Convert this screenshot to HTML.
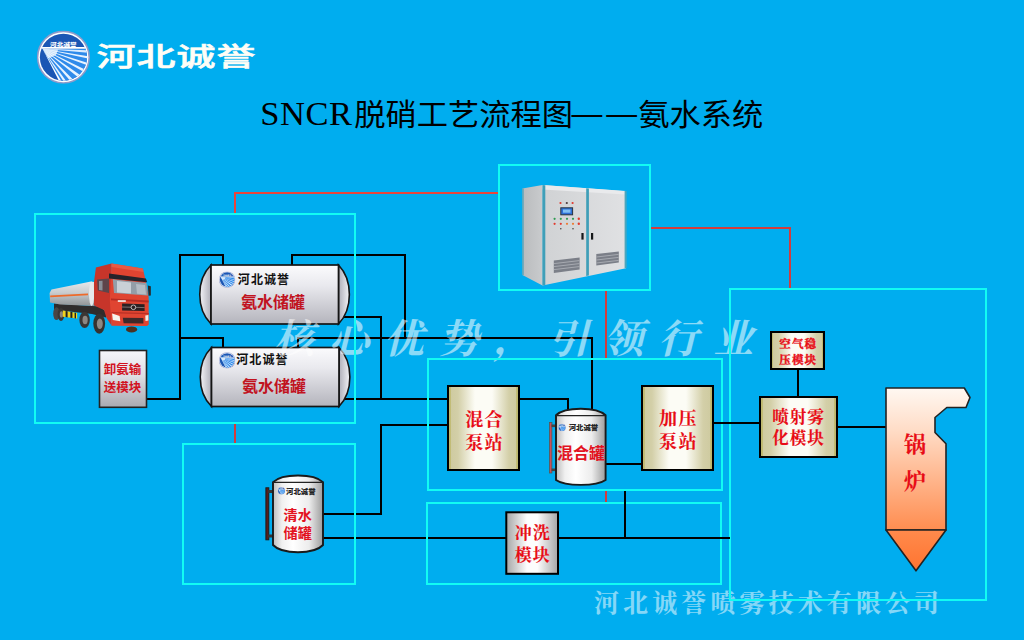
<!DOCTYPE html>
<html lang="zh-CN">
<head>
<meta charset="utf-8">
<title>SNCR脱硝工艺流程图——氨水系统</title>
<style>
html,body{margin:0;padding:0;background:#00adef;}
body{width:1024px;height:640px;overflow:hidden;position:relative;}
svg{position:absolute;left:0;top:0;display:block;}
.sans{font-family:"Liberation Sans","Noto Sans CJK SC",sans-serif;}
.serif{font-family:"Liberation Serif","Noto Serif CJK SC",serif;}
.cy{fill:none;stroke:#12fbf3;stroke-width:2;shape-rendering:crispEdges;}
.rd{fill:none;stroke:#d23c3d;stroke-width:2;shape-rendering:crispEdges;}
.bk{fill:none;stroke:#000;stroke-width:2;shape-rendering:crispEdges;stroke-linejoin:miter;}
.lblS{font-family:"Liberation Serif","Noto Serif CJK SC",serif;font-weight:700;fill:#e80c16;stroke:#e80c16;stroke-width:0.12px;text-anchor:middle;}
.lblH{font-family:"Liberation Sans","Noto Sans CJK SC",sans-serif;font-weight:700;fill:#c1131f;text-anchor:middle;}
.lblR{font-family:"Liberation Sans","Noto Sans CJK SC",sans-serif;font-weight:700;fill:#e3121f;text-anchor:middle;}
.brand{font-family:"Liberation Sans","Noto Sans CJK SC",sans-serif;font-weight:700;fill:#111;letter-spacing:1.1px;}
.wm{font-family:"Liberation Serif","Noto Serif CJK SC",serif;font-style:italic;font-weight:600;fill:#fff;}
</style>
</head>
<body>
<svg width="1024" height="640" viewBox="0 0 1024 640">
<defs>
  <linearGradient id="gKhaki" x1="0" y1="0" x2="1" y2="0">
    <stop offset="0" stop-color="#bcb668"/><stop offset="0.035" stop-color="#c2bc76"/><stop offset="0.045" stop-color="#cfcba1"/>
    <stop offset="0.14" stop-color="#d3cfa8"/><stop offset="0.38" stop-color="#fcfcf5"/><stop offset="0.62" stop-color="#fcfcf5"/>
    <stop offset="0.86" stop-color="#d3cfa8"/><stop offset="0.955" stop-color="#cfcba1"/><stop offset="0.965" stop-color="#c2bc76"/><stop offset="1" stop-color="#b6b05e"/>
  </linearGradient>
  <linearGradient id="gGrayH" x1="0" y1="0" x2="1" y2="0">
    <stop offset="0" stop-color="#a6a6a6"/><stop offset="0.4" stop-color="#fdfdfd"/><stop offset="0.6" stop-color="#fdfdfd"/><stop offset="1" stop-color="#a6a6a6"/>
  </linearGradient>
  <linearGradient id="gGrayV" x1="0" y1="0" x2="0" y2="1">
    <stop offset="0" stop-color="#f6f6fa"/><stop offset="0.45" stop-color="#dedee4"/><stop offset="1" stop-color="#a9a9b0"/>
  </linearGradient>
  <linearGradient id="gCyl" x1="0" y1="0" x2="1" y2="0">
    <stop offset="0" stop-color="#bdbdbd"/><stop offset="0.18" stop-color="#f0f0f0"/><stop offset="0.4" stop-color="#ffffff"/><stop offset="0.72" stop-color="#ececec"/><stop offset="1" stop-color="#9c9c9c"/>
  </linearGradient>
  <linearGradient id="gBoiler" x1="0" y1="0" x2="0" y2="1">
    <stop offset="0" stop-color="#fff8f2"/><stop offset="0.3" stop-color="#ffdcc6"/><stop offset="1" stop-color="#ff8d50"/>
  </linearGradient>
  <linearGradient id="gBoilerT" x1="0" y1="0" x2="0" y2="1">
    <stop offset="0" stop-color="#ff8a4c"/><stop offset="1" stop-color="#ff7430"/>
  </linearGradient>

  <linearGradient id="gTankV" x1="0" y1="0" x2="0" y2="1">
    <stop offset="0" stop-color="#fbfbfd"/><stop offset="0.35" stop-color="#e9e9ee"/><stop offset="1" stop-color="#b4b4bc"/>
  </linearGradient>
  <linearGradient id="gCapL" x1="0" y1="0" x2="1" y2="0">
    <stop offset="0" stop-color="#f4f4f8"/><stop offset="1" stop-color="#aeaeb8"/>
  </linearGradient>
  <linearGradient id="gCapR" x1="0" y1="0" x2="1" y2="0">
    <stop offset="0" stop-color="#aeaeb8"/><stop offset="1" stop-color="#f4f4f8"/>
  </linearGradient>
  <clipPath id="logoClip"><circle cx="50" cy="50" r="44.5"/></clipPath>
  <symbol id="logo" viewBox="0 0 100 100">
    <circle cx="50" cy="50" r="50" fill="#8f9aca"/>
    <circle cx="50" cy="50" r="47" fill="#ffffff"/>
    <circle cx="50" cy="50" r="44.2" fill="#1b56b4"/>
    <g clip-path="url(#logoClip)">
      <polygon points="10.8,34 100,34 100,100 46,100" fill="#2f8aea"/>
      <polygon points="10.8,34 100,37 100,42" fill="#dcecff"/>
      <polygon points="10.8,34 100,49 100,53.5" fill="#e8f3ff"/>
      <polygon points="10.8,34 100,62 100,67" fill="#e8f3ff"/>
      <polygon points="10.8,34 100,78 98,83" fill="#e8f3ff"/>
      <polygon points="10.8,34 88,88 84,93" fill="#e8f3ff"/>
      <polygon points="10.8,34 73,97 68.5,101" fill="#e8f3ff"/>
      <polygon points="10.8,34 59,100 54.5,102" fill="#e8f3ff"/>
      <polygon points="10.8,34 49,100 44.5,100" fill="#ffffff"/>
      <polygon points="10.8,34 40,36 36,46 22,52" fill="#ffffff" opacity="0.75"/>
      <polygon points="5,31 95,31 95,34.2 5,34.2" fill="#ffffff"/>
    </g>
    <text transform="translate(50,29) scale(1,0.7)" text-anchor="middle" font-family="'Liberation Sans','Noto Sans CJK SC',sans-serif" font-weight="900" font-size="12.6" fill="#fff">河北诚誉</text>
  </symbol>

  <linearGradient id="gCabSide" x1="0" y1="0" x2="1" y2="0">
    <stop offset="0" stop-color="#b9bbbd"/><stop offset="1" stop-color="#c9cbcd"/>
  </linearGradient>
  <linearGradient id="gCabFront" x1="0" y1="0" x2="1" y2="0">
    <stop offset="0" stop-color="#d0d2d4"/><stop offset="1" stop-color="#e0e1e3"/>
  </linearGradient>
  <linearGradient id="gTrkTank" x1="0" y1="0" x2="0" y2="1">
    <stop offset="0" stop-color="#e6e8ea"/><stop offset="0.45" stop-color="#c9cccf"/><stop offset="1" stop-color="#8f9396"/>
  </linearGradient>
</defs>

<!-- ===== red signal lines ===== -->
<g id="signals">
  <polyline class="rd" points="235,213 235,193 499,193" style="stroke:#ea453b"/>
  <line class="rd" x1="235" y1="424" x2="235" y2="443"/>
  <polyline class="rd" points="651,228 790,228 790,288"/>
  <line class="rd" x1="606" y1="291" x2="606" y2="358"/>
  <line class="rd" x1="606" y1="491" x2="606" y2="502"/>
</g>

<!-- ===== black process pipes ===== -->
<g id="pipes">
  <polyline class="bk" points="147,399 180,399 180,255 223,255 223,265"/>
  <polyline class="bk" points="180,338 223,338 223,348"/>
  <polyline class="bk" points="292,265 292,255 405,255 405,338"/>
  <polyline class="bk" points="298,348 298,338 592,338 592,410"/>
  <polyline class="bk" points="340,317 381,317 381,399"/>
  <line class="bk" x1="340" y1="399" x2="448" y2="399"/>
  <polyline class="bk" points="448,425 381,425 381,514 322,514"/>
  <polyline class="bk" points="520,399 568,399 568,412"/>
  <line class="bk" x1="605" y1="464" x2="642" y2="464"/>
  <line class="bk" x1="714" y1="422.5" x2="760" y2="422.5"/>
  <line class="bk" x1="798" y1="369" x2="798" y2="397"/>
  <line class="bk" x1="837" y1="427" x2="887" y2="427"/>
  <line class="bk" x1="322" y1="538" x2="506" y2="538"/>
  <line class="bk" x1="558" y1="538" x2="730" y2="538"/>
  <line class="bk" x1="625" y1="491" x2="625" y2="538"/>
</g>

<!-- ===== module boxes ===== -->
<g id="modules">
  <rect x="448" y="386" width="71" height="84" fill="url(#gKhaki)" stroke="#000" stroke-width="2" shape-rendering="crispEdges"/>
  <text class="lblS" x="484.6" y="426" font-size="18" letter-spacing="1.4">混合</text>
  <text class="lblS" x="484.6" y="449" font-size="18" letter-spacing="1.4">泵站</text>

  <rect x="642" y="386" width="71" height="84" fill="url(#gKhaki)" stroke="#000" stroke-width="2" shape-rendering="crispEdges"/>
  <text class="lblS" x="678.4" y="424.6" font-size="18" letter-spacing="1.4">加压</text>
  <text class="lblS" x="678.4" y="447.6" font-size="18" letter-spacing="1.4">泵站</text>

  <rect x="771" y="332" width="53" height="37" fill="url(#gKhaki)" stroke="#000" stroke-width="2" shape-rendering="crispEdges"/>
  <text class="lblS" x="798.2" y="347.6" font-size="11.5" letter-spacing="1.1" style="stroke-width:0.4px">空气稳</text>
  <text class="lblS" x="798.2" y="363.6" font-size="11.5" letter-spacing="1.1" style="stroke-width:0.4px">压模块</text>

  <rect x="760" y="397" width="77" height="60" fill="url(#gKhaki)" stroke="#000" stroke-width="2" shape-rendering="crispEdges"/>
  <text class="lblS" x="798.6" y="423" font-size="16.6" letter-spacing="0.9">喷射雾</text>
  <text class="lblS" x="798.6" y="443.6" font-size="16.6" letter-spacing="0.9">化模块</text>

  <rect x="506.3" y="512.3" width="51.7" height="61.5" fill="url(#gGrayH)" stroke="#000" stroke-width="2"/>
  <text class="lblS" x="532.8" y="538.6" font-size="17" letter-spacing="1">冲洗</text>
  <text class="lblS" x="532.8" y="561.4" font-size="17" letter-spacing="1">模块</text>

  <rect x="99.5" y="350.5" width="47" height="56.8" fill="url(#gGrayV)" stroke="#222" stroke-width="1.6"/>
  <text class="lblR" x="122.6" y="373.8" font-size="12.5" style="fill:#d2121f">卸氨输</text>
  <text class="lblR" x="122.6" y="391.5" font-size="12.5" style="fill:#d2121f">送模块</text>
</g>


<!-- ===== ammonia storage tanks (horizontal) ===== -->
<g id="tank1">
  <path d="M211,265 C196,280 196,309 211,324 Z" fill="url(#gCapL)" stroke="#151515" stroke-width="1.6"/>
  <path d="M338.5,265 C353,280 353,309 338.5,324 Z" fill="url(#gCapR)" stroke="#151515" stroke-width="1.6"/>
  <rect x="211" y="265" width="127.5" height="59" fill="url(#gTankV)" stroke="#151515" stroke-width="1.7"/>
  <use href="#logo" x="218.9" y="271.4" width="16.4" height="16.4"/>
  <text class="brand" x="237.8" y="283.6" font-size="12">河北诚誉</text>
  <text class="lblH" x="273" y="307.6" font-size="16">氨水储罐</text>
</g>
<g id="tank2">
  <path d="M211.5,347.5 C196.5,362.5 196.5,391.5 211.5,406.5 Z" fill="url(#gCapL)" stroke="#151515" stroke-width="1.6"/>
  <path d="M339,347.5 C353.5,362.5 353.5,391.5 339,406.5 Z" fill="url(#gCapR)" stroke="#151515" stroke-width="1.6"/>
  <rect x="211.5" y="347.5" width="127.5" height="59" fill="url(#gTankV)" stroke="#151515" stroke-width="1.7"/>
  <use href="#logo" x="218.9" y="352.2" width="16.4" height="16.4"/>
  <text class="brand" x="236.2" y="364" font-size="12">河北诚誉</text>
  <text class="lblH" x="274" y="391.8" font-size="16">氨水储罐</text>
</g>

<!-- ===== clean water tank (vertical) ===== -->
<g id="tankWater">
  <rect x="265.9" y="487.8" width="2.9" height="52" fill="#5a1c1a" stroke="#1c1c1c" stroke-width="1"/>
  <rect x="268" y="490" width="5" height="3" fill="#333"/>
  <rect x="268" y="534.5" width="5" height="3" fill="#333"/>
  <path d="M273,482.2 C282,473.2 314,473.2 323,482.2 L323,545 C314,554.6 282,554.6 273,545 Z" fill="url(#gCyl)" stroke="#1a1a1a" stroke-width="1.9"/>
  <line x1="273" y1="482.4" x2="323" y2="482.4" stroke="#222" stroke-width="1.4"/>
  <use href="#logo" x="277.6" y="487" width="7.6" height="7.6"/>
  <text x="286" y="493.8" font-size="7.4" class="sans" font-weight="900" fill="#222">河北诚誉</text>
  <text class="lblR" x="297.8" y="519.6" font-size="14.2">清水</text>
  <text class="lblR" x="297.8" y="537.5" font-size="14.2">储罐</text>
</g>

<!-- ===== mixing tank (vertical) ===== -->
<g id="tankMix">
  <rect x="549.5" y="422.5" width="2.4" height="50.5" fill="#c9505a" stroke="#555" stroke-width="0.8"/>
  <rect x="551.5" y="424.5" width="4.5" height="2.6" fill="#444"/>
  <rect x="551.5" y="468.5" width="4.5" height="2.6" fill="#444"/>
  <path d="M556,415.3 C565,406.5 596.5,406.5 605.6,415.3 L605.6,480 C596.5,486.5 565,486.5 556,480 Z" fill="url(#gCyl)" stroke="#1a1a1a" stroke-width="1.9"/>
  <line x1="556" y1="415.6" x2="605.6" y2="415.6" stroke="#222" stroke-width="1.4"/>
  <use href="#logo" x="558.2" y="423.7" width="7.6" height="7.6"/>
  <text x="568.7" y="430.3" font-size="7.4" class="sans" font-weight="900" fill="#222">河北诚誉</text>
  <text class="lblR" x="581" y="459" font-size="16">混合罐</text>
</g>

<!-- ===== boiler ===== -->
<g id="boiler">
  <path d="M886,388 L964.3,388 L970,397.5 L966,407.5 L946.8,407.5 L935,417.5 L935,432.5 L946,443.8 L946,530 L886,530 Z" fill="url(#gBoiler)" stroke="#222" stroke-width="1.6" stroke-linejoin="round"/>
  <path d="M886,530 L946,530 L916,570.8 Z" fill="url(#gBoilerT)" stroke="#222" stroke-width="1.6" stroke-linejoin="round"/>
  <text class="lblS" x="915" y="452" font-size="22">锅</text>
  <text class="lblS" x="915" y="489" font-size="22">炉</text>
</g>

<!-- ===== company logo + brand ===== -->
<g id="brandTop">
  <use href="#logo" x="36.8" y="30.6" width="53.2" height="53.2"/>
  <text transform="translate(96.4,66.3) scale(1.5,1)" font-family="'Liberation Sans','Noto Sans CJK SC',sans-serif" font-weight="500" font-size="26" fill="#fffdf6" stroke="#fffdf6" stroke-width="0.55" letter-spacing="0.7">河北诚誉</text>
</g>

<!-- ===== watermarks ===== -->
<g id="watermarks">
  <text class="wm" x="274" y="352.5" font-size="40" letter-spacing="14.9" opacity="0.55" style="font-weight:700">核心优势，引领行业</text>
  <text class="wm" x="594" y="611.5" font-size="25" letter-spacing="4.1" opacity="0.52" style="font-style:normal;font-weight:700">河北诚誉喷雾技术有限公司</text>
</g>

<!-- ===== cyan group frames ===== -->
<g id="frames">
  <rect class="cy" x="35" y="214" width="320" height="209"/>
  <rect class="cy" x="183" y="444" width="172" height="140"/>
  <rect class="cy" x="499" y="165" width="151" height="125"/>
  <rect class="cy" x="428" y="359" width="294" height="131"/>
  <rect class="cy" x="427" y="503" width="294" height="81"/>
  <rect class="cy" x="730" y="289" width="256" height="311"/>
</g>
<g id="pipesTop">
  <line class="bk" x1="714" y1="422.5" x2="760" y2="422.5"/>
  <line class="bk" x1="558" y1="538" x2="730" y2="538"/>
  <line class="bk" x1="625" y1="491" x2="625" y2="538"/>
</g>



<!-- ===== control cabinet ===== -->
<g id="cabinet">
  <polygon points="522.4,188.6 542.5,185 542.5,285.5 522.4,275" fill="url(#gCabSide)"/>
  <polygon points="542.5,185 626,191.2 626,268.2 542.5,285.5" fill="url(#gCabFront)"/>
  <polygon points="542.5,185 625.8,191 625.8,194.5 542.5,189.5" fill="#e9eaec"/>
  <polygon points="542.5,185 545.3,185.2 545.3,284.9 542.5,285.5" fill="#3f9fb8"/>
  <polygon points="586.2,188.2 588.9,188.4 588.9,275.5 586.2,276.1" fill="#3f9fb8"/>
  <polygon points="624.6,190.9 626.6,191.1 626.6,267.9 624.6,268.3" fill="#4aa6bd"/>
  <line x1="523" y1="188.6" x2="523" y2="275" stroke="#4fa3b9" stroke-width="1.3"/>
  <rect x="560.8" y="207.8" width="11.8" height="7" fill="#2c6fd6" stroke="#2a3340" stroke-width="1"/>
  <rect x="563" y="209.5" width="7.5" height="3.2" fill="#7fc0f4"/>
  <g>
    <circle cx="560.5" cy="203" r="1.1" fill="#e23a2e"/><circle cx="566.8" cy="203" r="1.1" fill="#4a3a3a"/><circle cx="572.6" cy="203" r="1.1" fill="#e23a2e"/>
    <circle cx="554.6" cy="218.8" r="1.1" fill="#2e9a52"/><circle cx="560.8" cy="218.8" r="1.1" fill="#2e9a52"/><circle cx="567" cy="218.8" r="1.1" fill="#2e9a52"/><circle cx="573" cy="218.8" r="1.1" fill="#2e9a52"/><circle cx="578.8" cy="218.8" r="1.2" fill="#e23a2e"/>
    <circle cx="554.6" cy="223.8" r="1.1" fill="#e23a2e"/><circle cx="560.8" cy="223.8" r="1.1" fill="#e23a2e"/><circle cx="567" cy="223.8" r="1.1" fill="#ee7a30"/><circle cx="573" cy="223.8" r="1.1" fill="#ee7a30"/><circle cx="578.8" cy="223.8" r="1.2" fill="#e23a2e"/>
    <circle cx="560.8" cy="228.8" r="0.8" fill="#444"/><circle cx="573" cy="228.8" r="0.8" fill="#444"/>
  </g>
  <rect x="581.4" y="233" width="2.2" height="6.6" fill="#16181a"/>
  <rect x="591" y="233" width="2.2" height="6.6" fill="#16181a"/>
  <polygon points="553.8,260.6 579.6,257.6 579.6,269.6 553.8,273" fill="#7b7f88"/>
  <path d="M554,263.6 L579.4,260.6 M554,266.6 L579.4,263.6 M554,269.6 L579.4,266.6" stroke="#b9bcc2" stroke-width="0.7" fill="none"/>
  <polygon points="596.3,254 618.8,251.4 618.8,262.4 596.3,265.6" fill="#7b7f88"/>
  <path d="M596.5,257 L618.6,254.4 M596.5,260 L618.6,257.4 M596.5,263 L618.6,260.4" stroke="#b9bcc2" stroke-width="0.7" fill="none"/>
</g>

<!-- ===== tanker truck ===== -->
<g id="truck">
  <!-- chassis -->
  <polygon points="54,303.5 100,306.5 106,312 106,317.5 92,314 70,311.5 54,309.5" fill="#2f2c2c"/>
  <!-- rear wheels -->
  <ellipse cx="56.5" cy="313.6" rx="3.3" ry="6.4" fill="#4a4644"/>
  <ellipse cx="61" cy="314.4" rx="3.4" ry="6.5" fill="#3a3735"/>
  <ellipse cx="61.4" cy="314.4" rx="1.6" ry="3.2" fill="#8a8580"/>
  <!-- hazard bar -->
  <polygon points="62.8,310.4 77.1,312.9 77.1,318.6 62.8,316.7" fill="#efd21e"/>
  <polygon points="65.6,310.9 67.6,311.2 67.6,317.4 65.6,317.1" fill="#222"/>
  <polygon points="70.4,311.7 72.4,312 72.4,318 70.4,317.7" fill="#222"/>
  <polygon points="74.6,312.5 76,312.7 76,318.4 74.6,318.2" fill="#222"/>
  <!-- tank -->
  <polygon points="49.6,293 51.5,289.6 91,281.6 94,282 94,306 60,304.4 50,302.6" fill="url(#gTrkTank)"/>
  <polygon points="50.2,295.6 88,293.6 88,295.2 50.2,297.2" fill="#ee6a2a"/>
  <ellipse cx="91.6" cy="293.8" rx="2.6" ry="12.2" fill="#e6e9eb"/>
  <!-- middle + front wheels -->
  <ellipse cx="84.6" cy="319.9" rx="5.2" ry="8.2" fill="#3a3634"/>
  <ellipse cx="85.1" cy="320" rx="2.6" ry="4.2" fill="#8b8682"/>
  <ellipse cx="99.2" cy="323.6" rx="5.9" ry="10.1" fill="#363230"/>
  <ellipse cx="99.8" cy="323.8" rx="3" ry="5.2" fill="#8d8884"/>
  <ellipse cx="131.6" cy="329.4" rx="5.6" ry="3" fill="#4a3222"/>
  <!-- cab side -->
  <polygon points="95.9,267.4 111.5,263.6 111.5,325.5 106.5,318 104,310 94,305.5 94,282" fill="#c7352a"/>
  <!-- cab front -->
  <polygon points="111.5,263.6 142.8,268.6 144.8,276.8 148.6,297 148.8,324.5 147,326 111.5,325.8 109.8,300" fill="#e04431"/>
  <polygon points="111.5,263.6 142.8,268.6 143.6,272 111.5,267" fill="#e85a44"/>
  <polygon points="111,298.5 148.7,300.6 148.7,302.4 111,300.3" fill="#b52c24"/>
  <polygon points="111.5,312 148.8,313 148.8,314.2 111.5,313.2" fill="#b93026"/>
  <!-- side window -->
  <polygon points="97.1,279.4 109,278.6 109,293 97.8,290.6" fill="#5e444a"/>
  <polygon points="99,281 102.5,280.7 102.5,290.6 99,290" fill="#8a8f98"/>
  <!-- windshield -->
  <polygon points="112.8,279.2 146.5,283 147.8,295.6 114,293" fill="#939ea8"/>
  <polygon points="117,281 131,282.6 131,293.6 117,292.4" fill="#c9d0d6"/>
  <polygon points="136,284 145,285 146,294.6 137,293.8" fill="#b4bcc4"/>
  <!-- visor -->
  <polygon points="109,273.4 145.9,278.4 147.2,282.2 109,278.6" fill="#25232a"/>
  <!-- grille -->
  <polygon points="122.1,303.6 144.6,304.3 144.6,311.1 122.1,310.5" fill="#2a2023"/>
  <line x1="122.1" y1="307" x2="144.6" y2="307.6" stroke="#9a9090" stroke-width="0.7"/>
  <circle cx="133.4" cy="307.3" r="2.3" fill="#2a2023" stroke="#ddd" stroke-width="0.8"/>
  <polygon points="122.8,317.8 143.4,318 143.4,323.4 123.6,323.2" fill="#40292a"/>
  <!-- headlights -->
  <polygon points="112.1,313.6 119.6,316.1 120.3,321.2 112.8,319.9" fill="#f6f5ee"/>
  <polygon points="145.3,315.5 148.4,314.9 148.4,320.6 145.5,321.1" fill="#f0efe8"/>
  <!-- mirror -->
  <polygon points="147.8,285.4 150.8,286.2 150.8,295.6 148.6,295.8" fill="#2a2626"/>
  <rect x="117.8" y="300.2" width="8" height="1.7" fill="#f2e9e4"/>
</g>

<!-- ===== title ===== -->
<text x="260.2" y="124.9" fill="#000" font-family="'Liberation Serif',serif" font-size="34.5" letter-spacing="0.6">SNCR</text>
<text transform="translate(354.2,125.3) scale(1,0.95)" fill="#000" font-family="'Liberation Sans','Noto Sans CJK SC',sans-serif" font-size="31.25">脱硝工艺流程图</text>
<text x="571.6" y="123.6" fill="#000" font-family="'Liberation Sans','Noto Sans CJK SC',sans-serif" font-size="30.8" font-weight="500" letter-spacing="3.8">——</text>
<text transform="translate(638.2,125.3) scale(1,0.95)" fill="#000" font-family="'Liberation Sans','Noto Sans CJK SC',sans-serif" font-size="31.25">氨水系统</text>

</svg>
</body>
</html>
